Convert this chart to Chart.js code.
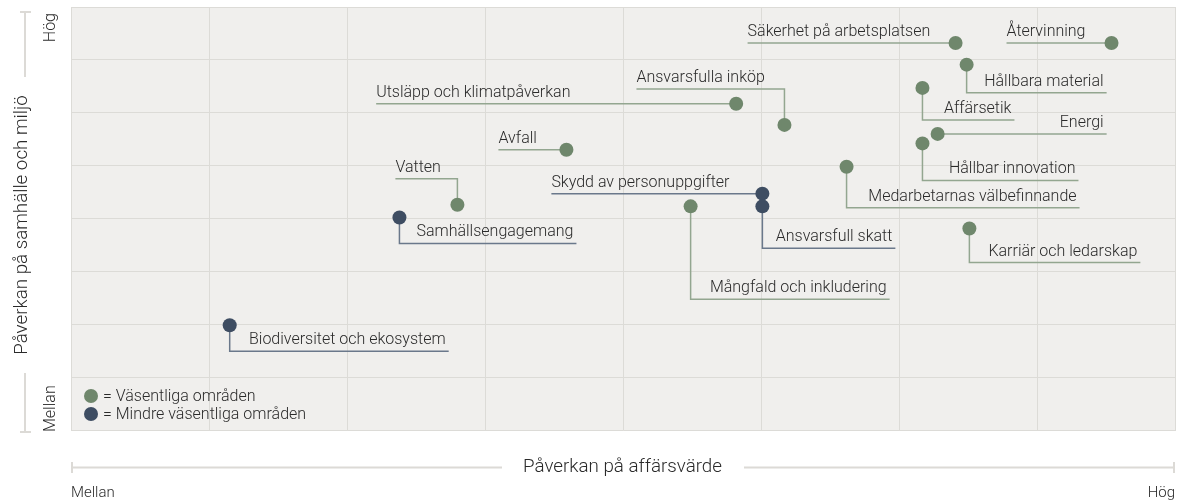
<!DOCTYPE html>
<html>
<head>
<meta charset="utf-8">
<script src="https://cdn.jsdelivr.net/npm/chart.js@4/dist/chart.umd.min.js"></script>
<style>
  html, body { margin: 0; padding: 0; background: #ffffff; }
  #wrap { width: 1196px; height: 502px; }
</style>
</head>
<body>
<div id="wrap"><canvas id="myChart" width="1196" height="502"></canvas></div>
<script>
// Väsentliga områden (green)
const greenTopics = [
  'Säkerhet på arbetsplatsen', 'Återvinning', 'Hållbara material', 'Affärsetik',
  'Energi', 'Hållbar innovation', 'Medarbetarnas välbefinnande', 'Karriär och ledarskap',
  'Ansvarsfulla inköp', 'Utsläpp och klimatpåverkan', 'Avfall', 'Vatten',
  'Mångfald och inkludering'
];
const greenBusiness = [6.41, 7.54, 6.49, 6.17, 6.28, 6.17, 5.62, 6.51, 5.17, 4.82, 3.59, 2.80, 4.49];
const greenSociety  = [7.32, 7.32, 6.91, 6.47, 5.60, 5.42, 4.98, 3.81, 5.77, 6.17, 5.30, 4.26, 4.23];

// Mindre väsentliga områden (dark)
const darkTopics = [
  'Samhällsengagemang', 'Skydd av personuppgifter', 'Ansvarsfull skatt', 'Biodiversitet och ekosystem'
];
const darkBusiness = [2.38, 5.01, 5.01, 1.15];
const darkSociety  = [4.02, 4.47, 4.23, 1.98];

const axisMin = 0;
const axisMax = 8;
const xTickLabels = ['Mellan', 'Hög'];
const yTickLabels = ['Mellan', 'Hög'];
const xTitle = 'Påverkan på affärsvärde';
const yTitle = 'Påverkan på samhälle och miljö';
const legendLabels = ['= Väsentliga områden', '= Mindre väsentliga områden'];

// leader line layout per label: [vertical offset, horizontal offset] in px from the dot
const leaderLayout = {
  'Säkerhet på arbetsplatsen': [0, -208],
  'Återvinning': [0, -105],
  'Hållbara material': [28, 140],
  'Affärsetik': [32, 92],
  'Energi': [0, 169],
  'Hållbar innovation': [37, 156],
  'Medarbetarnas välbefinnande': [41, 233],
  'Karriär och ledarskap': [34, 171],
  'Ansvarsfulla inköp': [-36, -148],
  'Utsläpp och klimatpåverkan': [0, -360],
  'Avfall': [0, -68],
  'Vatten': [-26, -62],
  'Mångfald och inkludering': [93, 199],
  'Samhällsengagemang': [26, 177],
  'Skydd av personuppgifter': [0, -211],
  'Ansvarsfull skatt': [42, 133],
  'Biodiversitet och ekosystem': [26, 219]
};

const GREEN = '#6f876c';
const DARK = '#3e4d62';
const GREEN_LINE = '#93a690';
const DARK_LINE = '#6a788b';
const TEXT = '#2a2a2a';
const BAR = '#dcdad6';
const FONT = 'Roboto, "Liberation Sans", sans-serif';
const W = '300 ';

const toPoints = (xs, ys) => xs.map((x, i) => ({ x: x, y: ys[i] }));

const plotBackground = {
  id: 'plotBackground',
  beforeDraw(chart) {
    const { ctx, chartArea: a } = chart;
    ctx.save();
    ctx.fillStyle = '#f0efed';
    ctx.fillRect(a.left, a.top, a.right - a.left, a.bottom - a.top);
    ctx.restore();
  }
};

const leaders = {
  id: 'leaders',
  beforeDatasetsDraw(chart) {
    const ctx = chart.ctx;
    ctx.save();
    ctx.font = W + '16px ' + FONT;
    ctx.textBaseline = 'alphabetic';
    chart.data.datasets.forEach((ds, di) => {
      const meta = chart.getDatasetMeta(di);
      const lineColor = di === 0 ? GREEN_LINE : DARK_LINE;
      ds.topics.forEach((name, i) => {
        const pt = meta.data[i];
        const lay = leaderLayout[name];
        const x0 = pt.x, y0 = pt.y;
        const yl = y0 + lay[0];
        const xe = x0 + lay[1];
        ctx.strokeStyle = lineColor;
        ctx.lineWidth = 1.5;
        ctx.beginPath();
        ctx.moveTo(x0, y0);
        ctx.lineTo(x0, yl);
        ctx.lineTo(xe, yl);
        ctx.stroke();
        ctx.fillStyle = TEXT;
        if (lay[1] < 0) {
          ctx.textAlign = 'left';
          ctx.fillText(name, xe, yl - 7);
        } else {
          ctx.textAlign = 'right';
          ctx.fillText(name, xe - 3, yl - 7);
        }
      });
    });
    ctx.restore();
  }
};

const decorations = {
  id: 'decorations',
  afterDraw(chart) {
    const { ctx, chartArea: a } = chart;
    ctx.save();
    ctx.fillStyle = TEXT;

    // legend
    ctx.font = W + '16px ' + FONT;
    ctx.textAlign = 'left';
    ctx.textBaseline = 'middle';
    [GREEN, DARK].forEach((c, i) => {
      const y = a.bottom - 34 + i * 18;
      ctx.fillStyle = c;
      ctx.beginPath();
      ctx.arc(a.left + 20, y, 7, 0, Math.PI * 2);
      ctx.fill();
      ctx.fillStyle = TEXT;
      ctx.fillText(legendLabels[i], a.left + 32, y + 1);
    });

    // x axis title with bar
    const ty = 467.5;
    const cx = (a.left + a.right) / 2 - 0.5;
    ctx.font = W + '18.75px ' + FONT;
    const tw = ctx.measureText(xTitle).width;
    ctx.textAlign = 'center';
    ctx.fillText(xTitle, cx, ty);
    ctx.strokeStyle = BAR;
    ctx.lineWidth = 2;
    ctx.beginPath();
    ctx.moveTo(a.left, ty); ctx.lineTo(cx - tw / 2 - 21, ty);
    ctx.moveTo(cx + tw / 2 + 22, ty); ctx.lineTo(a.right - 1, ty);
    ctx.moveTo(a.left + 1, ty - 5.5); ctx.lineTo(a.left + 1, ty + 5.5);
    ctx.moveTo(a.right - 1, ty - 5.5); ctx.lineTo(a.right - 1, ty + 5.5);
    ctx.stroke();

    ctx.font = W + '15px ' + FONT;
    ctx.textAlign = 'left';
    ctx.fillText(xTickLabels[0], a.left, 493);
    ctx.textAlign = 'right';
    ctx.fillText(xTickLabels[1], a.right, 493);

    // y axis title with bar
    ctx.font = W + '18.75px ' + FONT;
    const cy = 225;
    ctx.save();
    ctx.translate(22, cy);
    ctx.rotate(-Math.PI / 2);
    ctx.textAlign = 'center';
    ctx.fillText(yTitle, 0, 0);
    ctx.restore();

    ctx.beginPath();
    ctx.moveTo(25, 11); ctx.lineTo(25, 77);
    ctx.moveTo(20, 12); ctx.lineTo(31, 12);
    ctx.moveTo(25, 373); ctx.lineTo(25, 433);
    ctx.moveTo(20, 432); ctx.lineTo(31, 432);
    ctx.stroke();

    ctx.font = W + '16px ' + FONT;
    ctx.save();
    ctx.translate(51, a.top + 6);
    ctx.rotate(-Math.PI / 2);
    ctx.textAlign = 'right';
    ctx.fillText(yTickLabels[1], 0, 0);
    ctx.restore();
    ctx.save();
    ctx.translate(51, a.bottom + 2);
    ctx.rotate(-Math.PI / 2);
    ctx.textAlign = 'left';
    ctx.fillText(yTickLabels[0], 0, 0);
    ctx.restore();

    ctx.restore();
  }
};

const gridOpts = { color: '#dcdbd7', lineWidth: 1, drawTicks: false };

const ctx = document.getElementById('myChart').getContext('2d');
const myChart = new Chart(ctx, {
  type: 'scatter',
  data: {
    datasets: [{
      label: legendLabels[0],
      topics: greenTopics,
      data: toPoints(greenBusiness, greenSociety),
      backgroundColor: GREEN,
      borderWidth: 0,
      pointRadius: 7,
      pointHoverRadius: 7
    }, {
      label: legendLabels[1],
      topics: darkTopics,
      data: toPoints(darkBusiness, darkSociety),
      backgroundColor: DARK,
      borderWidth: 0,
      pointRadius: 7,
      pointHoverRadius: 7
    }]
  },
  options: {
    responsive: false,
    animation: false,
    layout: { padding: { left: 71, right: 21, top: 6, bottom: 72 } },
    plugins: { legend: { display: false }, tooltip: { enabled: false } },
    scales: {
      x: {
        type: 'linear', min: axisMin, max: axisMax,
        ticks: { stepSize: 1, display: false },
        grid: gridOpts,
        border: { color: '#dcdbd7' }
      },
      y: {
        type: 'linear', min: axisMin, max: axisMax,
        ticks: { stepSize: 1, display: false },
        grid: gridOpts,
        border: { color: '#dcdbd7' }
      }
    }
  },
  plugins: [plotBackground, leaders, decorations]
});
</script>
</body>
</html>
